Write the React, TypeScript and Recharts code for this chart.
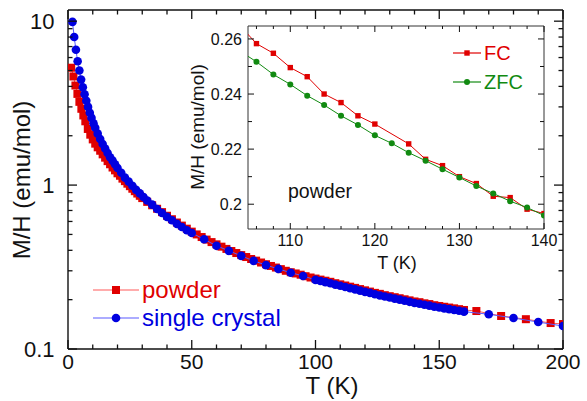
import { ScatterChart, Scatter, XAxis, YAxis } from 'recharts';

const RED = '#e00000';
const BLUE = '#0000e0';
const GREEN = '#118a11';
const INK = '#111';
const FONT = '"Liberation Sans", Arial, Helvetica, sans-serif';

// main panel: [T (K), M/H (emu/mol)]
const POWDER: [number, number][] = [
  [1.3, 5.2], [2.2, 4.6], [3.0, 4.05], [3.8, 3.6], [4.6, 3.22], [5.4, 2.92], [6.2, 2.66], [7.0, 2.45],
  [8, 2.2], [9, 2.03], [10, 1.9], [11, 1.79], [12, 1.7], [13, 1.62], [14, 1.54], [15, 1.47],
  [16, 1.4], [17, 1.34], [18, 1.28], [19, 1.23], [20, 1.18], [21, 1.14], [22, 1.095], [23, 1.057],
  [24, 1.02], [25, 0.985], [26, 0.95], [27, 0.918], [28, 0.888], [29, 0.86], [30, 0.833],
  [32, 0.79], [34, 0.753], [36, 0.717], [38, 0.684], [40, 0.65], [42, 0.619], [44, 0.591], [46, 0.566],
  [48, 0.542], [50, 0.52], [52, 0.5], [54, 0.482], [56, 0.465], [58, 0.449], [60, 0.435], [62, 0.421],
  [64, 0.408], [66, 0.396], [68, 0.385], [70, 0.374], [72, 0.364], [74, 0.354], [76, 0.346], [78, 0.337],
  [80, 0.329], [82, 0.321], [84, 0.314], [86, 0.307], [88, 0.3], [90, 0.294], [92, 0.289], [94, 0.284],
  [96, 0.278], [98, 0.273], [100, 0.269], [102, 0.265], [104, 0.261], [106, 0.257], [108, 0.252],
  [110, 0.248], [112, 0.244], [114, 0.24], [116, 0.236], [118, 0.232], [120, 0.228], [122, 0.224],
  [124, 0.22], [126, 0.217], [128, 0.213], [130, 0.21], [132, 0.207], [134, 0.204], [136, 0.201],
  [138, 0.198], [140, 0.195], [142, 0.193], [144, 0.19], [146, 0.188], [148, 0.185], [150, 0.183],
  [152, 0.181], [154, 0.179], [156, 0.177], [158, 0.175], [160, 0.173],
  [165, 0.1705], [175, 0.159], [185, 0.152], [195, 0.144], [200, 0.142],
];

const CRYSTAL: [number, number][] = [
  [1.8, 9.9], [2.5, 8.0], [3.2, 6.7], [3.9, 5.7], [4.6, 5.0], [5.3, 4.4], [6.0, 3.95], [6.7, 3.58],
  [7.4, 3.27], [8.1, 3.0], [8.8, 2.76], [9.5, 2.57], [10.3, 2.38], [11, 2.24], [12, 2.06], [13, 1.91],
  [14, 1.78], [15, 1.67], [16, 1.57], [17, 1.48], [18, 1.41], [19, 1.34], [20, 1.27], [21.5, 1.19],
  [23, 1.11], [24.5, 1.05], [26, 0.99], [27.5, 0.935], [29, 0.89], [30.5, 0.845], [32, 0.805],
  [34, 0.76], [36, 0.715], [38, 0.675], [40, 0.64], [42, 0.61], [44, 0.58], [46, 0.555], [48, 0.53],
  [50, 0.51], [55, 0.467], [60, 0.426], [65, 0.397], [70, 0.37], [75, 0.345], [80, 0.325], [85, 0.308],
  [90, 0.292], [95, 0.279], [100, 0.264], [102, 0.26], [104, 0.256], [106, 0.252], [108, 0.247],
  [110, 0.243], [112, 0.239], [114, 0.235], [116, 0.231], [118, 0.227], [120, 0.223], [122, 0.22],
  [124, 0.216], [126, 0.212], [128, 0.209], [130, 0.206], [132, 0.203], [134, 0.2], [136, 0.197],
  [138, 0.194], [140, 0.191], [142, 0.189], [144, 0.186], [146, 0.184], [148, 0.181], [150, 0.179],
  [152, 0.177], [154, 0.175], [156, 0.173], [158, 0.171], [160, 0.169],
  [170, 0.163], [180, 0.1545], [190, 0.146], [200, 0.138],
];

// inset: powder, field cooled / zero field cooled
const FC: [number, number][] = [
  [104, 0.265], [106, 0.2583], [108, 0.2548], [110, 0.2496], [112, 0.2463], [114, 0.24], [116, 0.2369],
  [118, 0.2321], [120, 0.2291], [124, 0.2219], [126, 0.2163], [128, 0.214], [130, 0.21], [132, 0.2075],
  [134, 0.2029], [136, 0.2024], [138, 0.1982], [140, 0.1966],
];
const ZFC: [number, number][] = [
  [104, 0.2557], [106, 0.2517], [108, 0.2471], [110, 0.2435], [112, 0.2394], [114, 0.236], [116, 0.2321],
  [118, 0.2288], [120, 0.225], [122, 0.2221], [124, 0.2187], [126, 0.2158], [128, 0.2127], [130, 0.2097],
  [132, 0.2066], [134, 0.2039], [136, 0.2011], [138, 0.1988], [140, 0.1959],
];

const MAIN_X_TICKS = [0, 10, 20, 30, 40, 50, 60, 70, 80, 90, 100, 110, 120, 130, 140, 150, 160, 170, 180, 190, 200];
const MAIN_X_LABELS = [0, 50, 100, 150, 200];
const MAIN_Y_TICKS = [0.1, 0.2, 0.3, 0.4, 0.5, 0.6, 0.7, 0.8, 0.9, 1, 2, 3, 4, 5, 6, 7, 8, 9, 10];
const MAIN_Y_LABELS = [0.1, 1, 10];
const INSET_X_TICKS = [106, 108, 110, 112, 114, 116, 118, 120, 122, 124, 126, 128, 130, 132, 134, 136, 138, 140];
const INSET_X_LABELS = [110, 120, 130, 140];
const INSET_Y_TICKS = [0.2, 0.21, 0.22, 0.23, 0.24, 0.25, 0.26];
const INSET_Y_LABELS = [0.2, 0.22, 0.24, 0.26];

const toPoints = (rows: [number, number][]) => rows.map(([t, v]) => ({ t, v }));

type Side = 'bottom' | 'top' | 'left' | 'right';

// ticks point into the plot; labels only on the bottom / left axes
function makeTick(side: Side, labels: number[], long: number, short: number, fontSize: number, gap: number, width: number) {
  return (props: any) => {
    const { x, y, payload } = props;
    const v = payload.value;
    const major = labels.includes(v);
    const len = major ? long : short;
    let x2 = x;
    let y2 = y;
    if (side === 'bottom') y2 = y - len;
    if (side === 'top') y2 = y + len;
    if (side === 'left') x2 = x + len;
    if (side === 'right') x2 = x - len;
    return (
      <g>
        <line x1={x} y1={y} x2={x2} y2={y2} stroke={INK} strokeWidth={width} />
        {major && side === 'bottom' && (
          <text x={x} y={y + gap} textAnchor="middle" fontSize={fontSize} fontFamily={FONT} fill={INK}>{v}</text>
        )}
        {major && side === 'left' && (
          <text x={x - gap} y={y} dy="0.36em" textAnchor="end" fontSize={fontSize} fontFamily={FONT} fill={INK}>{v}</text>
        )}
      </g>
    );
  };
}

const bigSquare = (p: any) => <rect x={p.cx - 4} y={p.cy - 4} width={8} height={8} fill={RED} />;
const bigDot = (p: any) => <circle cx={p.cx} cy={p.cy} r={4.3} fill={BLUE} />;
const smallSquare = (p: any) => <rect x={p.cx - 2.7} y={p.cy - 2.7} width={5.4} height={5.4} fill={RED} />;
const smallDot = (p: any) => <circle cx={p.cx} cy={p.cy} r={3} fill={GREEN} />;

function Text({ x, y, size, color = INK, rotate = false, children }: any) {
  return (
    <div
      style={{
        position: 'absolute', left: x, top: y, fontFamily: FONT, fontSize: size, color, lineHeight: 1,
        whiteSpace: 'nowrap', transform: `translate(-50%, -50%)${rotate ? ' rotate(-90deg)' : ''}`,
      }}
    >
      {children}
    </div>
  );
}

function LegendRow({ x, y, lineW, size, color, lineColor, marker, label }: any) {
  return (
    <div style={{ position: 'absolute', left: x, top: y - size / 2, height: size, display: 'flex', alignItems: 'center' }}>
      <svg width={lineW} height={12} style={{ display: 'block' }}>
        <line x1={0} y1={6} x2={lineW} y2={6} stroke={lineColor} strokeWidth={1.2} />
        {marker}
      </svg>
      <span style={{ fontFamily: FONT, fontSize: size, color, lineHeight: 1, marginLeft: 3 }}>{label}</span>
    </div>
  );
}

const axisLine = { stroke: INK, strokeWidth: 1.4 };
const insetLine = { stroke: '#333', strokeWidth: 1 };

export default function App() {
  const powder = toPoints(POWDER);
  const crystal = toPoints(CRYSTAL);
  const fc = toPoints(FC);
  const zfc = toPoints(ZFC);

  return (
    <div style={{ position: 'absolute', left: 0, top: 0, width: 587, height: 401, background: '#fff', overflow: 'hidden' }}>
      <ScatterChart width={587} height={401} margin={{ top: 9, right: 23, bottom: 0, left: 0 }}>
        <XAxis xAxisId="b" dataKey="t" type="number" domain={[0, 200]} allowDataOverflow ticks={MAIN_X_TICKS}
          interval={0} height={52} tickSize={0} tickMargin={0} tickLine={false} axisLine={axisLine}
          tick={makeTick('bottom', MAIN_X_LABELS, 9, 4.5, 21, 20, 1.3)} />
        <XAxis xAxisId="t" orientation="top" dataKey="t" type="number" domain={[0, 200]} allowDataOverflow
          ticks={MAIN_X_TICKS} interval={0} height={1} tickSize={0} tickMargin={0} tickLine={false} axisLine={axisLine}
          tick={makeTick('top', MAIN_X_LABELS, 9, 4.5, 21, 0, 1.3)} />
        <YAxis yAxisId="l" dataKey="v" type="number" scale="log" domain={[0.1, 11.7]} allowDataOverflow
          ticks={MAIN_Y_TICKS} interval={0} width={68} tickSize={0} tickMargin={0} tickLine={false} axisLine={axisLine}
          tick={makeTick('left', MAIN_Y_LABELS, 9, 4.5, 22, 13.5, 1.3)} />
        <YAxis yAxisId="r" orientation="right" dataKey="v" type="number" scale="log" domain={[0.1, 11.7]}
          allowDataOverflow ticks={MAIN_Y_TICKS} interval={0} width={1} tickSize={0} tickMargin={0} tickLine={false}
          axisLine={axisLine} tick={makeTick('right', MAIN_Y_LABELS, 9, 4.5, 22, 0, 1.3)} />
        <Scatter name="powder" data={powder} xAxisId="b" yAxisId="l" shape={bigSquare}
          line={{ stroke: '#ff5a5a', strokeWidth: 1 }} lineType="joint" isAnimationActive={false} />
        <Scatter name="single crystal" data={crystal} xAxisId="b" yAxisId="l" shape={bigDot}
          line={{ stroke: '#5a5aff', strokeWidth: 1 }} lineType="joint" isAnimationActive={false} />
      </ScatterChart>

      <Text x={22} y={180} size={24} rotate>M/H (emu/mol)</Text>
      <Text x={332} y={386} size={24}>T (K)</Text>

      <LegendRow x={93} y={290} lineW={46} size={24} color={RED} lineColor="#ff5a5a" label="powder"
        marker={<rect x={19} y={2} width={8} height={8} fill={RED} />} />
      <LegendRow x={93} y={318} lineW={46} size={24} color={BLUE} lineColor="#5a5aff" label="single crystal"
        marker={<circle cx={23} cy={6} r={4.3} fill={BLUE} />} />

      <div style={{ position: 'absolute', left: 180, top: 16 }}>
        <ScatterChart width={390} height={260} margin={{ top: 9, right: 25, bottom: 0, left: 0 }}>
          <XAxis xAxisId="b" dataKey="t" type="number" domain={[105, 140]} allowDataOverflow ticks={INSET_X_TICKS}
            interval={0} height={47} tickSize={0} tickMargin={0} tickLine={false} axisLine={insetLine}
            tick={makeTick('bottom', INSET_X_LABELS, 6, 3, 16, 16.5, 1)} />
          <XAxis xAxisId="t" orientation="top" dataKey="t" type="number" domain={[105, 140]} allowDataOverflow
            ticks={INSET_X_TICKS} interval={0} height={1} tickSize={0} tickMargin={0} tickLine={false}
            axisLine={insetLine} tick={makeTick('top', INSET_X_LABELS, 6, 3, 16, 0, 1)} />
          <YAxis yAxisId="l" dataKey="v" type="number" domain={[0.191, 0.2647]} allowDataOverflow
            ticks={INSET_Y_TICKS} interval={0} width={68} tickSize={0} tickMargin={0} tickLine={false}
            axisLine={insetLine} tick={makeTick('left', INSET_Y_LABELS, 6, 4, 16, 6, 1)} />
          <YAxis yAxisId="r" orientation="right" dataKey="v" type="number" domain={[0.191, 0.2647]} allowDataOverflow
            ticks={INSET_Y_TICKS} interval={0} width={1} tickSize={0} tickMargin={0} tickLine={false}
            axisLine={insetLine} tick={makeTick('right', INSET_Y_LABELS, 6, 4, 16, 0, 1)} />
          <Scatter name="FC" data={fc} xAxisId="b" yAxisId="l" shape={smallSquare}
            line={{ stroke: RED, strokeWidth: 1 }} lineType="joint" isAnimationActive={false} />
          <Scatter name="ZFC" data={zfc} xAxisId="b" yAxisId="l" shape={smallDot}
            line={{ stroke: GREEN, strokeWidth: 1 }} lineType="joint" isAnimationActive={false} />
        </ScatterChart>
      </div>

      <Text x={197} y={127} size={19} rotate>M/H (emu/mol)</Text>
      <Text x={397} y={263} size={18}>T (K)</Text>
      <Text x={320} y={192} size={19.5}>powder</Text>

      <LegendRow x={453} y={53} lineW={28} size={20} color={RED} lineColor={RED} label="FC"
        marker={<rect x={11.3} y={3.3} width={5.4} height={5.4} fill={RED} />} />
      <LegendRow x={453} y={82} lineW={28} size={20} color={GREEN} lineColor={GREEN} label="ZFC"
        marker={<circle cx={14} cy={6} r={3} fill={GREEN} />} />
    </div>
  );
}
